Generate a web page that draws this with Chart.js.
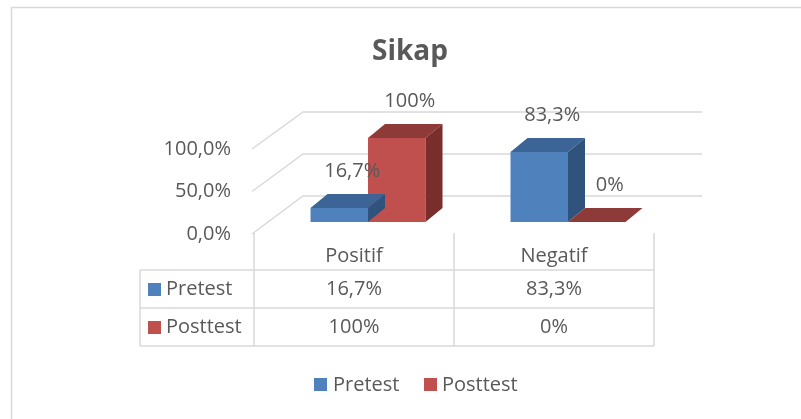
<!DOCTYPE html>
<html>
<head>
<meta charset="utf-8">
<script src="https://cdn.jsdelivr.net/npm/chart.js@4.4.1/dist/chart.umd.min.js"></script>
<style>
  html, body { margin: 0; padding: 0; background: #fff; }
  #wrap { width: 801px; height: 419px; position: relative; }
</style>
</head>
<body>
<div id="wrap"><canvas id="chart" width="801" height="419"></canvas></div>
<script>
// data
var categories = ['Positif', 'Negatif'];
var pretest = [16.7, 83.3];
var posttest = [100, 0];
var pretestLabels = ['16,7%', '83,3%'];
var posttestLabels = ['100%', '0%'];
var yTicks = [0, 50, 100];
var yTickLabels = ['0,0%', '50,0%', '100,0%'];

var FONT = '"Open Sans", Lato, sans-serif';
var TXT = '#595959';
var GRID = '#d9d9d9';

// front, top, side colours for each series
var faces = [
    { front: '#4f81bd', top: '#3c6496', side: '#30537e' },
    { front: '#c0504d', top: '#8e3a38', side: '#7a2e2c' }
];

// depth of bars / walls
var DX = 17, DY = -14;

const depthPlugin = {
    id: 'depth',
    beforeDatasetsDraw(chart) {
        const ctx = chart.ctx;
        const y = chart.scales.y;
        const x = chart.scales.x;
        ctx.save();
        ctx.strokeStyle = GRID;
        ctx.lineWidth = 1.5;
        const backLeft = x.left + 35;
        const backRight = x.right + 34;
        const frontLeft = x.left - 16;
        yTicks.forEach(function (v) {
            const py = y.getPixelForValue(v);
            const back = py - 26;
            const front = py + 12 - v * 0.01;
            ctx.beginPath();
            ctx.moveTo(frontLeft, front);
            ctx.lineTo(backLeft, back);
            ctx.lineTo(backRight, back);
            ctx.stroke();
        });
        // tick labels
        ctx.fillStyle = TXT;
        ctx.font = '20px ' + FONT;
        ctx.textAlign = 'right';
        ctx.textBaseline = 'middle';
        yTicks.forEach(function (v, i) {
            const py = y.getPixelForValue(v);
            ctx.fillText(yTickLabels[i], x.left - 37, py + 12 - v * 0.01);
        });
        ctx.restore();
    },
    afterDatasetsDraw(chart) {
        const ctx = chart.ctx;
        ctx.save();
        chart.data.datasets.forEach(function (ds, di) {
            const meta = chart.getDatasetMeta(di);
            const f = faces[di];
            meta.data.forEach(function (bar) {
                const l = bar.x - bar.width / 2;
                const r = bar.x + bar.width / 2;
                const t = bar.y;
                const b = bar.base;
                // top face
                ctx.fillStyle = f.top;
                ctx.beginPath();
                ctx.moveTo(l, t);
                ctx.lineTo(l + DX, t + DY);
                ctx.lineTo(r + DX, t + DY);
                ctx.lineTo(r, t);
                ctx.closePath();
                ctx.fill();
                // side face
                if (b - t > 0.5) {
                    ctx.fillStyle = f.side;
                    ctx.beginPath();
                    ctx.moveTo(r, t);
                    ctx.lineTo(r + DX, t + DY);
                    ctx.lineTo(r + DX, b + DY);
                    ctx.lineTo(r, b);
                    ctx.closePath();
                    ctx.fill();
                }
            });
        });
        // value labels
        ctx.fillStyle = TXT;
        ctx.font = '20px ' + FONT;
        ctx.textAlign = 'center';
        ctx.textBaseline = 'middle';
        const lbls = [pretestLabels, posttestLabels];
        chart.data.datasets.forEach(function (ds, di) {
            chart.getDatasetMeta(di).data.forEach(function (bar, i) {
                ctx.fillText(lbls[di][i], bar.x + 13, bar.y - 37);
            });
        });
        ctx.restore();
    },
    afterDraw(chart) {
        const ctx = chart.ctx;
        const x = chart.scales.x;
        ctx.save();
        // outer border
        ctx.strokeStyle = '#d9d9d9';
        ctx.lineWidth = 1.5;
        ctx.beginPath();
        ctx.moveTo(11.5, 430);
        ctx.lineTo(11.5, 7.5);
        ctx.lineTo(801, 7.5);
        ctx.stroke();

        // title
        ctx.fillStyle = TXT;
        ctx.font = 'bold 28px ' + FONT;
        ctx.textAlign = 'center';
        ctx.textBaseline = 'middle';
        ctx.fillText('Sikap', 410, 52);

        // data table
        const colEdges = [x.left - 14];
        categories.forEach(function (c, i) {
            colEdges.push(x.getPixelForValue(i) + (x.getPixelForValue(1) - x.getPixelForValue(0)) / 2 - 14);
        });
        const tLeft = 140, tTop = 233, r1 = 270, r2 = 308, r3 = 346;
        ctx.strokeStyle = GRID;
        ctx.lineWidth = 1.5;
        ctx.beginPath();
        colEdges.forEach(function (cx) {
            ctx.moveTo(cx, tTop);
            ctx.lineTo(cx, r3);
        });
        [r1, r2, r3].forEach(function (ry) {
            ctx.moveTo(tLeft, ry);
            ctx.lineTo(colEdges[colEdges.length - 1], ry);
        });
        ctx.moveTo(tLeft, r1);
        ctx.lineTo(tLeft, r3);
        ctx.stroke();

        ctx.fillStyle = TXT;
        ctx.font = '20px ' + FONT;
        ctx.textAlign = 'center';
        categories.forEach(function (c, i) {
            const cx = (colEdges[i] + colEdges[i + 1]) / 2;
            ctx.fillText(c, cx, 256);
            ctx.fillText(pretestLabels[i], cx, 289);
            ctx.fillText(posttestLabels[i], cx, 327);
        });
        ctx.textAlign = 'left';
        [['Pretest', 289], ['Posttest', 327]].forEach(function (row, i) {
            ctx.fillStyle = faces[i].front;
            ctx.fillRect(148, row[1] - 6, 13, 13);
            ctx.fillStyle = TXT;
            ctx.fillText(row[0], 166, row[1]);
        });

        // legend
        ctx.fillStyle = faces[0].front;
        ctx.fillRect(314, 378, 13, 13);
        ctx.fillStyle = faces[1].front;
        ctx.fillRect(424, 378, 13, 13);
        ctx.fillStyle = TXT;
        ctx.fillText('Pretest', 333, 385);
        ctx.fillText('Posttest', 442, 385);
        ctx.restore();
    }
};

const ctx = document.getElementById('chart').getContext('2d');
const myChart = new Chart(ctx, {
    type: 'bar',
    data: {
        labels: categories,
        datasets: [
            { label: 'Pretest', data: pretest, backgroundColor: faces[0].front },
            { label: 'Posttest', data: posttest, backgroundColor: faces[1].front }
        ]
    },
    options: {
        responsive: false,
        animation: false,
        layout: { padding: { left: 268, right: 133, top: 138, bottom: 197 } },
        datasets: { bar: { categoryPercentage: 0.575, barPercentage: 1 } },
        scales: {
            x: { display: false },
            y: { display: false, min: 0, max: 100 }
        },
        plugins: {
            legend: { display: false },
            title: { display: false },
            tooltip: { enabled: false }
        }
    },
    plugins: [depthPlugin]
});
</script>
</body>
</html>
